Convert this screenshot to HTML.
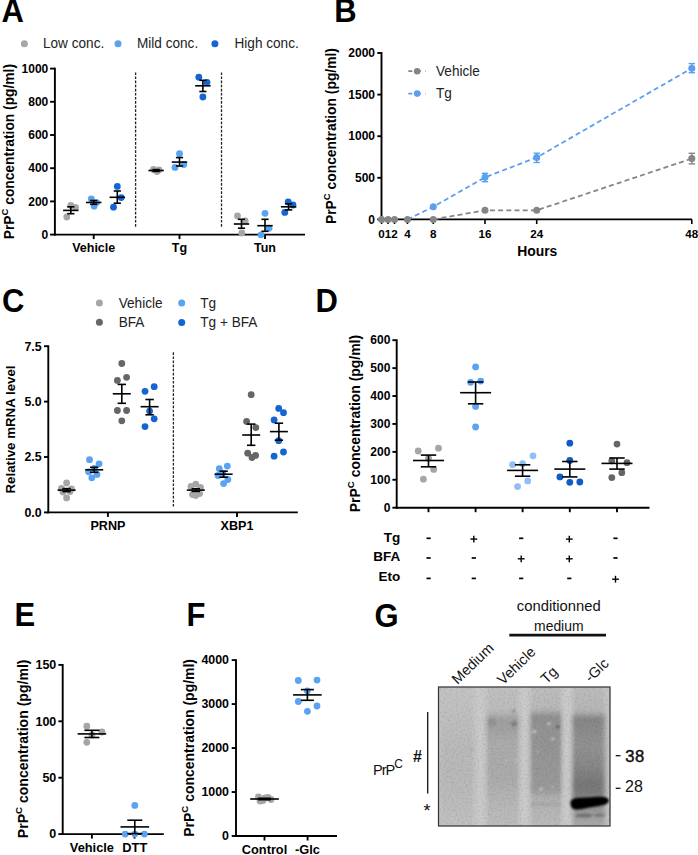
<!DOCTYPE html>
<html><head><meta charset="utf-8"><style>
html,body{margin:0;padding:0;background:#fff;}
svg{display:block;}
text{font-family:"Liberation Sans",sans-serif;}
</style></head><body>
<svg width="698" height="855" viewBox="0 0 698 855">
<rect width="698" height="855" fill="#fff"/>
<defs>
<filter id="bl3" x="-20%" y="-20%" width="140%" height="140%"><feGaussianBlur stdDeviation="2.8"/></filter>
<filter id="bl1" x="-20%" y="-50%" width="140%" height="200%"><feGaussianBlur stdDeviation="1.1"/></filter>
<filter id="bl05" x="-100%" y="-100%" width="300%" height="300%"><feGaussianBlur stdDeviation="0.9"/></filter>
<clipPath id="blotclip"><rect x="438.7" y="687.3" width="171.2" height="138.5"/></clipPath>
<linearGradient id="l1" x1="0" y1="0" x2="0" y2="1">
 <stop offset="0.0000" stop-color="#000" stop-opacity="0.01"/>
 <stop offset="0.1333" stop-color="#000" stop-opacity="0.02"/>
 <stop offset="0.3667" stop-color="#000" stop-opacity="0.05"/>
 <stop offset="0.6000" stop-color="#000" stop-opacity="0.07"/>
 <stop offset="0.8000" stop-color="#000" stop-opacity="0.05"/>
 <stop offset="1.0000" stop-color="#000" stop-opacity="0.02"/>
</linearGradient>
<linearGradient id="l2" x1="0" y1="0" x2="0" y2="1">
 <stop offset="0.0000" stop-color="#000" stop-opacity="0.02"/>
 <stop offset="0.2133" stop-color="#000" stop-opacity="0.05"/>
 <stop offset="0.2600" stop-color="#000" stop-opacity="0.2"/>
 <stop offset="0.3333" stop-color="#000" stop-opacity="0.18"/>
 <stop offset="0.4133" stop-color="#000" stop-opacity="0.13"/>
 <stop offset="0.6667" stop-color="#000" stop-opacity="0.13"/>
 <stop offset="0.8000" stop-color="#000" stop-opacity="0.08"/>
 <stop offset="1.0000" stop-color="#000" stop-opacity="0.04"/>
</linearGradient>
<linearGradient id="l3" x1="0" y1="0" x2="0" y2="1">
 <stop offset="0.0000" stop-color="#000" stop-opacity="0.03"/>
 <stop offset="0.2000" stop-color="#000" stop-opacity="0.07"/>
 <stop offset="0.2400" stop-color="#000" stop-opacity="0.28"/>
 <stop offset="0.2933" stop-color="#000" stop-opacity="0.26"/>
 <stop offset="0.5333" stop-color="#000" stop-opacity="0.24"/>
 <stop offset="0.7333" stop-color="#000" stop-opacity="0.22"/>
 <stop offset="0.7867" stop-color="#000" stop-opacity="0.1"/>
 <stop offset="1.0000" stop-color="#000" stop-opacity="0.05"/>
</linearGradient>
<linearGradient id="l4" x1="0" y1="0" x2="0" y2="1">
 <stop offset="0.0000" stop-color="#000" stop-opacity="0.04"/>
 <stop offset="0.2133" stop-color="#000" stop-opacity="0.08"/>
 <stop offset="0.2533" stop-color="#000" stop-opacity="0.33"/>
 <stop offset="0.3200" stop-color="#000" stop-opacity="0.3"/>
 <stop offset="0.4333" stop-color="#000" stop-opacity="0.26"/>
 <stop offset="0.5667" stop-color="#000" stop-opacity="0.31"/>
 <stop offset="0.7000" stop-color="#000" stop-opacity="0.4"/>
 <stop offset="0.7667" stop-color="#000" stop-opacity="0.36"/>
 <stop offset="0.8800" stop-color="#000" stop-opacity="0.22"/>
 <stop offset="1.0000" stop-color="#000" stop-opacity="0.12"/>
</linearGradient>
<filter id="noise" x="0" y="0" width="100%" height="100%">
 <feTurbulence type="fractalNoise" baseFrequency="0.5" numOctaves="2" seed="3" result="t"/>
 <feColorMatrix type="matrix" values="0 0 0 0 0  0 0 0 0 0  0 0 0 0 0  1.6 0 0 0 -0.7" />
</filter>
</defs>
<rect x="438.2" y="686.8" width="172" height="139.4" fill="#c6c6c6"/>
<g clip-path="url(#blotclip)">
<g filter="url(#bl3)">
<rect x="440" y="680" width="37" height="150" fill="url(#l1)"/>
<rect x="485.5" y="680" width="35" height="150" fill="url(#l2)"/>
<rect x="529.5" y="680" width="33" height="150" fill="url(#l3)"/>
<rect x="571" y="680" width="34" height="150" fill="url(#l4)"/>
<rect x="477.5" y="680" width="5" height="150" fill="#fff" opacity="0.12"/>
<rect x="522" y="680" width="4.5" height="150" fill="#fff" opacity="0.15"/>
<rect x="565" y="680" width="4.5" height="150" fill="#fff" opacity="0.16"/>
</g>
<rect x="438" y="686" width="173" height="141" fill="#000" filter="url(#noise)" opacity="0.13"/>
<g filter="url(#bl1)">
<path d="M570.5,803 C570.5,797.5 578,797.8 588,797.6 C598,796.6 607.5,795.6 608.8,800 C609.5,804 603,805.6 596,806.4 C588,807.4 580,810.2 574.5,809.3 C571.5,808.6 570.5,806 570.5,803 Z" fill="#000"/>
<ellipse cx="584" cy="815.6" rx="9" ry="2" fill="#000" opacity="0.28"/>
<ellipse cx="600" cy="815.2" rx="6" ry="1.8" fill="#000" opacity="0.22"/>
<rect x="531" y="802" width="30" height="4" fill="#000" opacity="0.06"/>
</g>
<circle cx="534.5" cy="731.5" r="1.6" fill="#fff" opacity="0.6" filter="url(#bl05)"/>
<circle cx="549" cy="723.5" r="1.5" fill="#fff" opacity="0.6" filter="url(#bl05)"/>
<circle cx="553" cy="739" r="1.6" fill="#fff" opacity="0.45" filter="url(#bl05)"/>
<circle cx="537.5" cy="752" r="1.2" fill="#fff" opacity="0.35" filter="url(#bl05)"/>
<circle cx="541" cy="789" r="1.5" fill="#fff" opacity="0.5" filter="url(#bl05)"/>
<circle cx="552.5" cy="787" r="1.2" fill="#fff" opacity="0.35" filter="url(#bl05)"/>
<circle cx="515.5" cy="760.5" r="1.2" fill="#fff" opacity="0.35" filter="url(#bl05)"/>
<circle cx="506.5" cy="760.5" r="1.1" fill="#fff" opacity="0.3" filter="url(#bl05)"/>
<circle cx="513.5" cy="711" r="1.4" fill="#000" opacity="0.3" filter="url(#bl05)"/>
<circle cx="514" cy="724" r="2.8" fill="#000" opacity="0.2" filter="url(#bl05)"/>
<circle cx="558" cy="727" r="1.8" fill="#000" opacity="0.35" filter="url(#bl05)"/>
<circle cx="472.5" cy="749.5" r="1.2" fill="#000" opacity="0.15" filter="url(#bl05)"/>
<circle cx="492" cy="722" r="4" fill="#000" opacity="0.08" filter="url(#bl05)"/>
</g>
<rect x="438.5" y="687" width="171.5" height="139" fill="none" stroke="#333" stroke-width="1.2"/>
<text transform="translate(1.5,22.2) scale(1,1.05)" font-size="31" font-weight="bold" text-anchor="start" fill="#000" >A</text>
<circle cx="24.4" cy="43.7" r="3.5" fill="#a6a6a6"/>
<circle cx="118" cy="43.7" r="3.5" fill="#5aa3f2"/>
<circle cx="214.9" cy="43.7" r="3.5" fill="#1464d4"/>
<text transform="translate(43,48.4) scale(1,1.09)" font-size="13.6" font-weight="normal" text-anchor="start" fill="#222" >Low conc.</text>
<text transform="translate(137,48.4) scale(1,1.09)" font-size="13.6" font-weight="normal" text-anchor="start" fill="#222" >Mild conc.</text>
<text transform="translate(234.5,48.4) scale(1,1.09)" font-size="13.6" font-weight="normal" text-anchor="start" fill="#222" >High conc.</text>
<text transform="translate(14.2,239.2) rotate(-90) scale(1,1.02)" x="0" y="0" font-size="13.78" font-weight="bold" fill="#000">PrP<tspan font-size="9.51" dy="-5.79">C</tspan><tspan dy="5.79"> concentration (pg/ml)</tspan></text>
<line x1="54.9" y1="67.69999999999999" x2="54.9" y2="235.5" stroke="#000" stroke-width="1.9" />
<line x1="50.1" y1="234.6" x2="54.9" y2="234.6" stroke="#000" stroke-width="1.9" />
<text x="48.3" y="238.8" font-size="12" font-weight="bold" text-anchor="end" fill="#000" >0</text>
<line x1="50.1" y1="201.39999999999998" x2="54.9" y2="201.39999999999998" stroke="#000" stroke-width="1.9" />
<text x="48.3" y="205.6" font-size="12" font-weight="bold" text-anchor="end" fill="#000" >200</text>
<line x1="50.1" y1="168.2" x2="54.9" y2="168.2" stroke="#000" stroke-width="1.9" />
<text x="48.3" y="172.4" font-size="12" font-weight="bold" text-anchor="end" fill="#000" >400</text>
<line x1="50.1" y1="135.0" x2="54.9" y2="135.0" stroke="#000" stroke-width="1.9" />
<text x="48.3" y="139.2" font-size="12" font-weight="bold" text-anchor="end" fill="#000" >600</text>
<line x1="50.1" y1="101.79999999999998" x2="54.9" y2="101.79999999999998" stroke="#000" stroke-width="1.9" />
<text x="48.3" y="106.0" font-size="12" font-weight="bold" text-anchor="end" fill="#000" >800</text>
<line x1="50.1" y1="68.6" x2="54.9" y2="68.6" stroke="#000" stroke-width="1.9" />
<text x="48.3" y="72.8" font-size="12" font-weight="bold" text-anchor="end" fill="#000" >1000</text>
<line x1="135.6" y1="72.4" x2="135.6" y2="228" stroke="#222" stroke-width="1.3" stroke-dasharray="2.6 1.5"/>
<line x1="221.5" y1="72.4" x2="221.5" y2="228" stroke="#222" stroke-width="1.3" stroke-dasharray="2.6 1.5"/>
<line x1="54.0" y1="234.6" x2="305" y2="234.6" stroke="#000" stroke-width="1.9" />
<line x1="93.7" y1="234.6" x2="93.7" y2="239.1" stroke="#000" stroke-width="1.9" />
<line x1="179.5" y1="234.6" x2="179.5" y2="239.1" stroke="#000" stroke-width="1.9" />
<line x1="265" y1="234.6" x2="265" y2="239.1" stroke="#000" stroke-width="1.9" />
<circle cx="66.8" cy="217" r="3.4" fill="#a6a6a6"/>
<circle cx="70.8" cy="205.5" r="3.4" fill="#a6a6a6"/>
<circle cx="75.5" cy="207.5" r="3.4" fill="#a6a6a6"/>
<circle cx="91.3" cy="199" r="3.4" fill="#5aa3f2"/>
<circle cx="94.1" cy="206.2" r="3.4" fill="#5aa3f2"/>
<circle cx="96.6" cy="202.6" r="3.4" fill="#5aa3f2"/>
<circle cx="117.3" cy="186.4" r="3.4" fill="#1464d4"/>
<circle cx="121.2" cy="197.6" r="3.4" fill="#1464d4"/>
<circle cx="113.5" cy="207.2" r="3.4" fill="#1464d4"/>
<circle cx="153.5" cy="169.5" r="3.4" fill="#a6a6a6"/>
<circle cx="157" cy="171.5" r="3.4" fill="#a6a6a6"/>
<circle cx="159" cy="170" r="3.4" fill="#a6a6a6"/>
<circle cx="179.5" cy="153.7" r="3.4" fill="#5aa3f2"/>
<circle cx="175" cy="167.4" r="3.4" fill="#5aa3f2"/>
<circle cx="183.8" cy="164.5" r="3.4" fill="#5aa3f2"/>
<circle cx="198.8" cy="77.2" r="3.4" fill="#1464d4"/>
<circle cx="207" cy="82.3" r="3.4" fill="#1464d4"/>
<circle cx="202.9" cy="97" r="3.4" fill="#1464d4"/>
<circle cx="237.5" cy="215.9" r="3.4" fill="#a6a6a6"/>
<circle cx="245.2" cy="221" r="3.4" fill="#a6a6a6"/>
<circle cx="241.8" cy="233" r="3.4" fill="#a6a6a6"/>
<circle cx="265" cy="213.3" r="3.4" fill="#5aa3f2"/>
<circle cx="269" cy="228.2" r="3.4" fill="#5aa3f2"/>
<circle cx="261" cy="234.8" r="3.4" fill="#5aa3f2"/>
<circle cx="288.2" cy="201.8" r="3.4" fill="#1464d4"/>
<circle cx="293" cy="205" r="3.4" fill="#1464d4"/>
<circle cx="284.8" cy="212.4" r="3.4" fill="#1464d4"/>
<line x1="63.099999999999994" y1="210.4" x2="78.5" y2="210.4" stroke="#000" stroke-width="1.6" />
<line x1="70.8" y1="206.8" x2="70.8" y2="213.7" stroke="#000" stroke-width="1.6" />
<line x1="67.2" y1="206.8" x2="74.39999999999999" y2="206.8" stroke="#000" stroke-width="1.6" />
<line x1="67.2" y1="213.7" x2="74.39999999999999" y2="213.7" stroke="#000" stroke-width="1.6" />
<line x1="86.0" y1="202.5" x2="101.4" y2="202.5" stroke="#000" stroke-width="1.6" />
<line x1="93.7" y1="200.5" x2="93.7" y2="204.3" stroke="#000" stroke-width="1.6" />
<line x1="90.10000000000001" y1="200.5" x2="97.3" y2="200.5" stroke="#000" stroke-width="1.6" />
<line x1="90.10000000000001" y1="204.3" x2="97.3" y2="204.3" stroke="#000" stroke-width="1.6" />
<line x1="109.6" y1="197.3" x2="125.0" y2="197.3" stroke="#000" stroke-width="1.6" />
<line x1="117.3" y1="191" x2="117.3" y2="203.2" stroke="#000" stroke-width="1.6" />
<line x1="113.7" y1="191" x2="120.89999999999999" y2="191" stroke="#000" stroke-width="1.6" />
<line x1="113.7" y1="203.2" x2="120.89999999999999" y2="203.2" stroke="#000" stroke-width="1.6" />
<line x1="148.4" y1="170.5" x2="163.79999999999998" y2="170.5" stroke="#000" stroke-width="1.6" />
<line x1="156.1" y1="169.6" x2="156.1" y2="171.4" stroke="#000" stroke-width="1.6" />
<line x1="152.5" y1="169.6" x2="159.7" y2="169.6" stroke="#000" stroke-width="1.6" />
<line x1="152.5" y1="171.4" x2="159.7" y2="171.4" stroke="#000" stroke-width="1.6" />
<line x1="171.8" y1="162.1" x2="187.2" y2="162.1" stroke="#000" stroke-width="1.6" />
<line x1="179.5" y1="157.6" x2="179.5" y2="166" stroke="#000" stroke-width="1.6" />
<line x1="175.9" y1="157.6" x2="183.1" y2="157.6" stroke="#000" stroke-width="1.6" />
<line x1="175.9" y1="166" x2="183.1" y2="166" stroke="#000" stroke-width="1.6" />
<line x1="195.20000000000002" y1="85.8" x2="210.6" y2="85.8" stroke="#000" stroke-width="1.6" />
<line x1="202.9" y1="80.3" x2="202.9" y2="91.5" stroke="#000" stroke-width="1.6" />
<line x1="199.3" y1="80.3" x2="206.5" y2="80.3" stroke="#000" stroke-width="1.6" />
<line x1="199.3" y1="91.5" x2="206.5" y2="91.5" stroke="#000" stroke-width="1.6" />
<line x1="233.8" y1="224" x2="249.2" y2="224" stroke="#000" stroke-width="1.6" />
<line x1="241.5" y1="219.3" x2="241.5" y2="228.2" stroke="#000" stroke-width="1.6" />
<line x1="237.9" y1="219.3" x2="245.1" y2="219.3" stroke="#000" stroke-width="1.6" />
<line x1="237.9" y1="228.2" x2="245.1" y2="228.2" stroke="#000" stroke-width="1.6" />
<line x1="257.3" y1="225.7" x2="272.7" y2="225.7" stroke="#000" stroke-width="1.6" />
<line x1="265" y1="219.3" x2="265" y2="231.3" stroke="#000" stroke-width="1.6" />
<line x1="261.4" y1="219.3" x2="268.6" y2="219.3" stroke="#000" stroke-width="1.6" />
<line x1="261.4" y1="231.3" x2="268.6" y2="231.3" stroke="#000" stroke-width="1.6" />
<line x1="280.90000000000003" y1="206.8" x2="296.3" y2="206.8" stroke="#000" stroke-width="1.6" />
<line x1="288.6" y1="203.8" x2="288.6" y2="209.9" stroke="#000" stroke-width="1.6" />
<line x1="285.0" y1="203.8" x2="292.20000000000005" y2="203.8" stroke="#000" stroke-width="1.6" />
<line x1="285.0" y1="209.9" x2="292.20000000000005" y2="209.9" stroke="#000" stroke-width="1.6" />
<text x="93.7" y="252.4" font-size="12.5" font-weight="bold" text-anchor="middle" fill="#000" >Vehicle</text>
<text x="179.5" y="252.4" font-size="12.5" font-weight="bold" text-anchor="middle" fill="#000" >Tg</text>
<text x="265" y="252.4" font-size="12.5" font-weight="bold" text-anchor="middle" fill="#000" >Tun</text>
<text transform="translate(334.3,22.2) scale(1,1.05)" font-size="31" font-weight="bold" text-anchor="start" fill="#000" >B</text>
<text transform="translate(335.7,224) rotate(-90) scale(1,1.02)" x="0" y="0" font-size="13.84" font-weight="bold" fill="#000">PrP<tspan font-size="9.55" dy="-5.81">C</tspan><tspan dy="5.81"> concentration (pg/ml)</tspan></text>
<line x1="381.5" y1="52.1" x2="381.5" y2="220.3" stroke="#000" stroke-width="1.9" />
<line x1="377.3" y1="219.4" x2="381.5" y2="219.4" stroke="#000" stroke-width="1.9" />
<text x="375.0" y="223.6" font-size="12" font-weight="bold" text-anchor="end" fill="#000" >0</text>
<line x1="377.3" y1="177.8" x2="381.5" y2="177.8" stroke="#000" stroke-width="1.9" />
<text x="375.0" y="182.0" font-size="12" font-weight="bold" text-anchor="end" fill="#000" >500</text>
<line x1="377.3" y1="136.2" x2="381.5" y2="136.2" stroke="#000" stroke-width="1.9" />
<text x="375.0" y="140.4" font-size="12" font-weight="bold" text-anchor="end" fill="#000" >1000</text>
<line x1="377.3" y1="94.60000000000001" x2="381.5" y2="94.60000000000001" stroke="#000" stroke-width="1.9" />
<text x="375.0" y="98.8" font-size="12" font-weight="bold" text-anchor="end" fill="#000" >1500</text>
<line x1="377.3" y1="53.0" x2="381.5" y2="53.0" stroke="#000" stroke-width="1.9" />
<text x="375.0" y="57.2" font-size="12" font-weight="bold" text-anchor="end" fill="#000" >2000</text>
<line x1="380.70000000000005" y1="219.4" x2="692" y2="219.4" stroke="#000" stroke-width="1.8" />
<line x1="381.6" y1="219.4" x2="381.6" y2="224.0" stroke="#000" stroke-width="1.6" />
<line x1="388.0625" y1="219.4" x2="388.0625" y2="224.0" stroke="#000" stroke-width="1.6" />
<line x1="394.52500000000003" y1="219.4" x2="394.52500000000003" y2="224.0" stroke="#000" stroke-width="1.6" />
<line x1="407.45000000000005" y1="219.4" x2="407.45000000000005" y2="224.0" stroke="#000" stroke-width="1.6" />
<line x1="433.3" y1="219.4" x2="433.3" y2="224.0" stroke="#000" stroke-width="1.6" />
<line x1="485.0" y1="219.4" x2="485.0" y2="224.0" stroke="#000" stroke-width="1.6" />
<line x1="536.7" y1="219.4" x2="536.7" y2="224.0" stroke="#000" stroke-width="1.6" />
<line x1="691.8" y1="219.4" x2="691.8" y2="224.0" stroke="#000" stroke-width="1.6" />
<polyline points="433.3,219.4 485.0,210.3 536.7,210.3 691.8,158.6" fill="none" stroke="#858585" stroke-width="1.8" stroke-dasharray="5 3.2"/>
<polyline points="407.5,219.4 433.3,206.8 485.0,177.3 536.7,157.5 691.8,68.2" fill="none" stroke="#5a9ff0" stroke-width="1.8" stroke-dasharray="5 3.2"/>
<line x1="485.0" y1="173.3" x2="485.0" y2="181.7" stroke="#5a9ff0" stroke-width="1.4" />
<line x1="481.8" y1="173.3" x2="488.2" y2="173.3" stroke="#5a9ff0" stroke-width="1.4" />
<line x1="481.8" y1="181.7" x2="488.2" y2="181.7" stroke="#5a9ff0" stroke-width="1.4" />
<line x1="536.7" y1="153.2" x2="536.7" y2="162.5" stroke="#5a9ff0" stroke-width="1.4" />
<line x1="533.5" y1="153.2" x2="539.9000000000001" y2="153.2" stroke="#5a9ff0" stroke-width="1.4" />
<line x1="533.5" y1="162.5" x2="539.9000000000001" y2="162.5" stroke="#5a9ff0" stroke-width="1.4" />
<line x1="691.8" y1="63.6" x2="691.8" y2="72.7" stroke="#5a9ff0" stroke-width="1.4" />
<line x1="688.5999999999999" y1="63.6" x2="695.0" y2="63.6" stroke="#5a9ff0" stroke-width="1.4" />
<line x1="688.5999999999999" y1="72.7" x2="695.0" y2="72.7" stroke="#5a9ff0" stroke-width="1.4" />
<line x1="691.8" y1="153.3" x2="691.8" y2="163.9" stroke="#858585" stroke-width="1.4" />
<line x1="688.5999999999999" y1="153.3" x2="695.0" y2="153.3" stroke="#858585" stroke-width="1.4" />
<line x1="688.5999999999999" y1="163.9" x2="695.0" y2="163.9" stroke="#858585" stroke-width="1.4" />
<circle cx="381.6" cy="219.4" r="3.5" fill="#858585"/>
<circle cx="388.0625" cy="219.4" r="3.5" fill="#858585"/>
<circle cx="394.52500000000003" cy="219.4" r="3.5" fill="#858585"/>
<circle cx="407.45000000000005" cy="219.4" r="3.5" fill="#858585"/>
<circle cx="433.3" cy="219.4" r="3.5" fill="#858585"/>
<circle cx="485.0" cy="210.3" r="3.5" fill="#858585"/>
<circle cx="536.7" cy="210.3" r="3.5" fill="#858585"/>
<circle cx="691.8" cy="158.6" r="3.5" fill="#858585"/>
<circle cx="433.3" cy="206.8" r="3.5" fill="#5a9ff0"/>
<circle cx="485.0" cy="177.3" r="3.5" fill="#5a9ff0"/>
<circle cx="536.7" cy="157.5" r="3.5" fill="#5a9ff0"/>
<circle cx="691.8" cy="68.20000000000002" r="3.5" fill="#5a9ff0"/>
<text x="381.6" y="237.5" font-size="11.6" font-weight="bold" text-anchor="middle" fill="#000" >0</text>
<text x="388.0625" y="237.5" font-size="11.6" font-weight="bold" text-anchor="middle" fill="#000" >1</text>
<text x="394.52500000000003" y="237.5" font-size="11.6" font-weight="bold" text-anchor="middle" fill="#000" >2</text>
<text x="407.45000000000005" y="237.5" font-size="11.6" font-weight="bold" text-anchor="middle" fill="#000" >4</text>
<text x="433.3" y="237.5" font-size="11.6" font-weight="bold" text-anchor="middle" fill="#000" >8</text>
<text x="485.0" y="237.5" font-size="11.6" font-weight="bold" text-anchor="middle" fill="#000" >16</text>
<text x="536.7" y="237.5" font-size="11.6" font-weight="bold" text-anchor="middle" fill="#000" >24</text>
<text x="691.8" y="237.5" font-size="11.6" font-weight="bold" text-anchor="middle" fill="#000" >48</text>
<text x="537.2" y="255.5" font-size="13.9" font-weight="bold" text-anchor="middle" fill="#000" >Hours</text>
<line x1="408.3" y1="71.2" x2="426" y2="71.2" stroke="#858585" stroke-width="1.8" stroke-dasharray="4 4.6"/>
<circle cx="417.2" cy="71.2" r="3.3" fill="#858585"/>
<text transform="translate(436,75.8) scale(1,1.09)" font-size="13.6" font-weight="normal" text-anchor="start" fill="#222" >Vehicle</text>
<line x1="408.3" y1="93.6" x2="426" y2="93.6" stroke="#5a9ff0" stroke-width="1.8" stroke-dasharray="4 4.6"/>
<circle cx="417.2" cy="93.6" r="3.3" fill="#5a9ff0"/>
<text transform="translate(436,98.19999999999999) scale(1,1.09)" font-size="13.6" font-weight="normal" text-anchor="start" fill="#222" >Tg</text>
<text transform="translate(2,311.8) scale(1,1.05)" font-size="31" font-weight="bold" text-anchor="start" fill="#000" >C</text>
<circle cx="99.4" cy="302.9" r="3.5" fill="#a6a6a6"/>
<circle cx="99.4" cy="322.2" r="3.5" fill="#666666"/>
<circle cx="181.7" cy="302.9" r="3.5" fill="#5aa3f2"/>
<circle cx="181.7" cy="322.4" r="3.5" fill="#1464d4"/>
<text transform="translate(118.7,307.6) scale(1,1.09)" font-size="13.6" font-weight="normal" text-anchor="start" fill="#222" >Vehicle</text>
<text transform="translate(118.7,326.6) scale(1,1.09)" font-size="13.6" font-weight="normal" text-anchor="start" fill="#222" >BFA</text>
<text transform="translate(200.3,307.6) scale(1,1.09)" font-size="13.6" font-weight="normal" text-anchor="start" fill="#222" >Tg</text>
<text transform="translate(200.3,326.6) scale(1,1.09)" font-size="13.6" font-weight="normal" text-anchor="start" fill="#222" >Tg + BFA</text>
<text transform="translate(14.8,493.5) rotate(-90) scale(1,1.02)" x="0" y="0" font-size="13.3" font-weight="bold" fill="#000">Relative mRNA level</text>
<line x1="48.3" y1="345.3" x2="48.3" y2="513.3" stroke="#000" stroke-width="1.9" />
<line x1="44.0" y1="512.4" x2="48.3" y2="512.4" stroke="#000" stroke-width="1.9" />
<text x="41.7" y="516.74" font-size="12.4" font-weight="bold" text-anchor="end" fill="#000" >0.0</text>
<line x1="44.0" y1="457.0" x2="48.3" y2="457.0" stroke="#000" stroke-width="1.9" />
<text x="41.7" y="461.34" font-size="12.4" font-weight="bold" text-anchor="end" fill="#000" >2.5</text>
<line x1="44.0" y1="401.59999999999997" x2="48.3" y2="401.59999999999997" stroke="#000" stroke-width="1.9" />
<text x="41.7" y="405.94" font-size="12.4" font-weight="bold" text-anchor="end" fill="#000" >5.0</text>
<line x1="44.0" y1="346.2" x2="48.3" y2="346.2" stroke="#000" stroke-width="1.9" />
<text x="41.7" y="350.54" font-size="12.4" font-weight="bold" text-anchor="end" fill="#000" >7.5</text>
<line x1="173.4" y1="352.3" x2="173.4" y2="507.6" stroke="#222" stroke-width="1.3" stroke-dasharray="2.6 1.5"/>
<line x1="47.4" y1="512.4" x2="297.8" y2="512.4" stroke="#000" stroke-width="1.9" />
<line x1="107.9" y1="512.4" x2="107.9" y2="516.9" stroke="#000" stroke-width="1.9" />
<line x1="237" y1="512.4" x2="237" y2="516.9" stroke="#000" stroke-width="1.9" />
<circle cx="66.6" cy="483" r="3.4" fill="#a6a6a6"/>
<circle cx="66.6" cy="497.9" r="3.4" fill="#a6a6a6"/>
<circle cx="61.5" cy="488.5" r="3.4" fill="#a6a6a6"/>
<circle cx="71.5" cy="489" r="3.4" fill="#a6a6a6"/>
<circle cx="63" cy="492" r="3.4" fill="#a6a6a6"/>
<circle cx="70" cy="491.5" r="3.4" fill="#a6a6a6"/>
<circle cx="89.5" cy="459.7" r="3.4" fill="#5aa3f2"/>
<circle cx="99.1" cy="463.8" r="3.4" fill="#5aa3f2"/>
<circle cx="91.8" cy="477.8" r="3.4" fill="#5aa3f2"/>
<circle cx="97" cy="474.4" r="3.4" fill="#5aa3f2"/>
<circle cx="88.6" cy="471.8" r="3.4" fill="#5aa3f2"/>
<circle cx="94.5" cy="468.5" r="3.4" fill="#5aa3f2"/>
<circle cx="121.8" cy="363.5" r="3.4" fill="#666666"/>
<circle cx="126.6" cy="377.3" r="3.4" fill="#666666"/>
<circle cx="117.4" cy="380.4" r="3.4" fill="#666666"/>
<circle cx="117.4" cy="410.5" r="3.4" fill="#666666"/>
<circle cx="126.6" cy="410.5" r="3.4" fill="#666666"/>
<circle cx="121.8" cy="420.8" r="3.4" fill="#666666"/>
<circle cx="154.2" cy="386.7" r="3.4" fill="#1464d4"/>
<circle cx="145" cy="391.3" r="3.4" fill="#1464d4"/>
<circle cx="149.6" cy="411.1" r="3.4" fill="#1464d4"/>
<circle cx="154.2" cy="418.8" r="3.4" fill="#1464d4"/>
<circle cx="145" cy="426.6" r="3.4" fill="#1464d4"/>
<circle cx="195.8" cy="484.1" r="3.4" fill="#a6a6a6"/>
<circle cx="191" cy="486.5" r="3.4" fill="#a6a6a6"/>
<circle cx="200.5" cy="487.5" r="3.4" fill="#a6a6a6"/>
<circle cx="192.5" cy="494.5" r="3.4" fill="#a6a6a6"/>
<circle cx="199.5" cy="493.5" r="3.4" fill="#a6a6a6"/>
<circle cx="195.8" cy="495.6" r="3.4" fill="#a6a6a6"/>
<circle cx="219.3" cy="468.7" r="3.4" fill="#5aa3f2"/>
<circle cx="227.3" cy="466.1" r="3.4" fill="#5aa3f2"/>
<circle cx="218.1" cy="475.5" r="3.4" fill="#5aa3f2"/>
<circle cx="227.9" cy="479.5" r="3.4" fill="#5aa3f2"/>
<circle cx="223.6" cy="483.6" r="3.4" fill="#5aa3f2"/>
<circle cx="222.7" cy="473.2" r="3.4" fill="#5aa3f2"/>
<circle cx="251.2" cy="394.7" r="3.4" fill="#666666"/>
<circle cx="246.6" cy="421.5" r="3.4" fill="#666666"/>
<circle cx="255.8" cy="427.6" r="3.4" fill="#666666"/>
<circle cx="247.7" cy="453.2" r="3.4" fill="#666666"/>
<circle cx="252" cy="457.5" r="3.4" fill="#666666"/>
<circle cx="255.6" cy="455.4" r="3.4" fill="#666666"/>
<circle cx="278.7" cy="408.4" r="3.4" fill="#1464d4"/>
<circle cx="283.5" cy="412.7" r="3.4" fill="#1464d4"/>
<circle cx="274.1" cy="419.9" r="3.4" fill="#1464d4"/>
<circle cx="278.7" cy="440.7" r="3.4" fill="#1464d4"/>
<circle cx="283.5" cy="452" r="3.4" fill="#1464d4"/>
<circle cx="274.1" cy="456.2" r="3.4" fill="#1464d4"/>
<line x1="57.599999999999994" y1="490.1" x2="75.6" y2="490.1" stroke="#000" stroke-width="1.6" />
<line x1="66.6" y1="488.6" x2="66.6" y2="491.6" stroke="#000" stroke-width="1.6" />
<line x1="62.39999999999999" y1="488.6" x2="70.8" y2="488.6" stroke="#000" stroke-width="1.6" />
<line x1="62.39999999999999" y1="491.6" x2="70.8" y2="491.6" stroke="#000" stroke-width="1.6" />
<line x1="85.2" y1="469.8" x2="103.2" y2="469.8" stroke="#000" stroke-width="1.6" />
<line x1="94.2" y1="467.3" x2="94.2" y2="472.3" stroke="#000" stroke-width="1.6" />
<line x1="90.0" y1="467.3" x2="98.4" y2="467.3" stroke="#000" stroke-width="1.6" />
<line x1="90.0" y1="472.3" x2="98.4" y2="472.3" stroke="#000" stroke-width="1.6" />
<line x1="112.8" y1="393.8" x2="130.8" y2="393.8" stroke="#000" stroke-width="1.6" />
<line x1="121.8" y1="384.4" x2="121.8" y2="403.3" stroke="#000" stroke-width="1.6" />
<line x1="117.6" y1="384.4" x2="126.0" y2="384.4" stroke="#000" stroke-width="1.6" />
<line x1="117.6" y1="403.3" x2="126.0" y2="403.3" stroke="#000" stroke-width="1.6" />
<line x1="140.6" y1="406.7" x2="158.6" y2="406.7" stroke="#000" stroke-width="1.6" />
<line x1="149.6" y1="399.5" x2="149.6" y2="414.8" stroke="#000" stroke-width="1.6" />
<line x1="145.4" y1="399.5" x2="153.79999999999998" y2="399.5" stroke="#000" stroke-width="1.6" />
<line x1="145.4" y1="414.8" x2="153.79999999999998" y2="414.8" stroke="#000" stroke-width="1.6" />
<line x1="186.8" y1="490.1" x2="204.8" y2="490.1" stroke="#000" stroke-width="1.6" />
<line x1="195.8" y1="488.8" x2="195.8" y2="491.4" stroke="#000" stroke-width="1.6" />
<line x1="191.60000000000002" y1="488.8" x2="200.0" y2="488.8" stroke="#000" stroke-width="1.6" />
<line x1="191.60000000000002" y1="491.4" x2="200.0" y2="491.4" stroke="#000" stroke-width="1.6" />
<line x1="214.6" y1="474.2" x2="232.6" y2="474.2" stroke="#000" stroke-width="1.6" />
<line x1="223.6" y1="471.2" x2="223.6" y2="477.2" stroke="#000" stroke-width="1.6" />
<line x1="219.4" y1="471.2" x2="227.79999999999998" y2="471.2" stroke="#000" stroke-width="1.6" />
<line x1="219.4" y1="477.2" x2="227.79999999999998" y2="477.2" stroke="#000" stroke-width="1.6" />
<line x1="242.2" y1="435" x2="260.2" y2="435" stroke="#000" stroke-width="1.6" />
<line x1="251.2" y1="424.1" x2="251.2" y2="445.3" stroke="#000" stroke-width="1.6" />
<line x1="247.0" y1="424.1" x2="255.39999999999998" y2="424.1" stroke="#000" stroke-width="1.6" />
<line x1="247.0" y1="445.3" x2="255.39999999999998" y2="445.3" stroke="#000" stroke-width="1.6" />
<line x1="269.9" y1="431.6" x2="287.9" y2="431.6" stroke="#000" stroke-width="1.6" />
<line x1="278.9" y1="423.2" x2="278.9" y2="440.2" stroke="#000" stroke-width="1.6" />
<line x1="274.7" y1="423.2" x2="283.09999999999997" y2="423.2" stroke="#000" stroke-width="1.6" />
<line x1="274.7" y1="440.2" x2="283.09999999999997" y2="440.2" stroke="#000" stroke-width="1.6" />
<text x="107.9" y="529.6" font-size="12.6" font-weight="bold" text-anchor="middle" fill="#000" >PRNP</text>
<text x="237" y="529.6" font-size="12.6" font-weight="bold" text-anchor="middle" fill="#000" >XBP1</text>
<text transform="translate(315.5,311.8) scale(1,1.05)" font-size="31" font-weight="bold" text-anchor="start" fill="#000" >D</text>
<text transform="translate(360.1,512.2) rotate(-90) scale(1,1.02)" x="0" y="0" font-size="13.95" font-weight="bold" fill="#000">PrP<tspan font-size="9.63" dy="-5.86">C</tspan><tspan dy="5.86"> concentration (pg/ml)</tspan></text>
<line x1="396.7" y1="339.3" x2="396.7" y2="508.59999999999997" stroke="#000" stroke-width="1.9" />
<line x1="392.4" y1="507.7" x2="396.7" y2="507.7" stroke="#000" stroke-width="1.9" />
<text x="390.4" y="511.9" font-size="12" font-weight="bold" text-anchor="end" fill="#000" >0</text>
<line x1="392.4" y1="479.7833333333333" x2="396.7" y2="479.7833333333333" stroke="#000" stroke-width="1.9" />
<text x="390.4" y="483.98" font-size="12" font-weight="bold" text-anchor="end" fill="#000" >100</text>
<line x1="392.4" y1="451.8666666666667" x2="396.7" y2="451.8666666666667" stroke="#000" stroke-width="1.9" />
<text x="390.4" y="456.07" font-size="12" font-weight="bold" text-anchor="end" fill="#000" >200</text>
<line x1="392.4" y1="423.95" x2="396.7" y2="423.95" stroke="#000" stroke-width="1.9" />
<text x="390.4" y="428.15" font-size="12" font-weight="bold" text-anchor="end" fill="#000" >300</text>
<line x1="392.4" y1="396.0333333333333" x2="396.7" y2="396.0333333333333" stroke="#000" stroke-width="1.9" />
<text x="390.4" y="400.23" font-size="12" font-weight="bold" text-anchor="end" fill="#000" >400</text>
<line x1="392.4" y1="368.1166666666667" x2="396.7" y2="368.1166666666667" stroke="#000" stroke-width="1.9" />
<text x="390.4" y="372.32" font-size="12" font-weight="bold" text-anchor="end" fill="#000" >500</text>
<line x1="392.4" y1="340.2" x2="396.7" y2="340.2" stroke="#000" stroke-width="1.9" />
<text x="390.4" y="344.4" font-size="12" font-weight="bold" text-anchor="end" fill="#000" >600</text>
<line x1="395.8" y1="507.7" x2="649.5" y2="507.7" stroke="#000" stroke-width="1.9" />
<line x1="428.5" y1="507.7" x2="428.5" y2="512.2" stroke="#000" stroke-width="1.9" />
<line x1="475.6" y1="507.7" x2="475.6" y2="512.2" stroke="#000" stroke-width="1.9" />
<line x1="522.6" y1="507.7" x2="522.6" y2="512.2" stroke="#000" stroke-width="1.9" />
<line x1="569.8" y1="507.7" x2="569.8" y2="512.2" stroke="#000" stroke-width="1.9" />
<line x1="617" y1="507.7" x2="617" y2="512.2" stroke="#000" stroke-width="1.9" />
<circle cx="418.2" cy="451" r="3.4" fill="#a6a6a6"/>
<circle cx="438.5" cy="448.2" r="3.4" fill="#a6a6a6"/>
<circle cx="428.5" cy="458.2" r="3.4" fill="#a6a6a6"/>
<circle cx="433.7" cy="469.4" r="3.4" fill="#a6a6a6"/>
<circle cx="423.4" cy="479.2" r="3.4" fill="#a6a6a6"/>
<circle cx="475.6" cy="366.9" r="3.4" fill="#5aa3f2"/>
<circle cx="470.6" cy="382.3" r="3.4" fill="#5aa3f2"/>
<circle cx="480.7" cy="381.1" r="3.4" fill="#5aa3f2"/>
<circle cx="475.6" cy="406.4" r="3.4" fill="#5aa3f2"/>
<circle cx="475.6" cy="427" r="3.4" fill="#5aa3f2"/>
<circle cx="533" cy="455.8" r="3.4" fill="#8fbff5"/>
<circle cx="512.6" cy="464.7" r="3.4" fill="#8fbff5"/>
<circle cx="522.6" cy="463.7" r="3.4" fill="#8fbff5"/>
<circle cx="527.7" cy="480.9" r="3.4" fill="#8fbff5"/>
<circle cx="517.6" cy="486.6" r="3.4" fill="#8fbff5"/>
<circle cx="569.8" cy="443.2" r="3.4" fill="#0e5cc6"/>
<circle cx="569.8" cy="460.5" r="3.4" fill="#0e5cc6"/>
<circle cx="559.9" cy="476.9" r="3.4" fill="#0e5cc6"/>
<circle cx="569.8" cy="482.3" r="3.4" fill="#0e5cc6"/>
<circle cx="579.8" cy="482" r="3.4" fill="#0e5cc6"/>
<circle cx="617" cy="444.1" r="3.4" fill="#666666"/>
<circle cx="611.8" cy="460.8" r="3.4" fill="#666666"/>
<circle cx="627" cy="462.7" r="3.4" fill="#666666"/>
<circle cx="621.8" cy="472.7" r="3.4" fill="#666666"/>
<circle cx="611.8" cy="477.6" r="3.4" fill="#666666"/>
<line x1="413.0" y1="460.5" x2="444.0" y2="460.5" stroke="#000" stroke-width="1.6" />
<line x1="428.5" y1="455.1" x2="428.5" y2="466.8" stroke="#000" stroke-width="1.6" />
<line x1="420.8" y1="455.1" x2="436.2" y2="455.1" stroke="#000" stroke-width="1.6" />
<line x1="420.8" y1="466.8" x2="436.2" y2="466.8" stroke="#000" stroke-width="1.6" />
<line x1="460.1" y1="392.7" x2="491.1" y2="392.7" stroke="#000" stroke-width="1.6" />
<line x1="475.6" y1="382" x2="475.6" y2="403.8" stroke="#000" stroke-width="1.6" />
<line x1="467.90000000000003" y1="382" x2="483.3" y2="382" stroke="#000" stroke-width="1.6" />
<line x1="467.90000000000003" y1="403.8" x2="483.3" y2="403.8" stroke="#000" stroke-width="1.6" />
<line x1="507.1" y1="470.4" x2="538.1" y2="470.4" stroke="#000" stroke-width="1.6" />
<line x1="522.6" y1="464.8" x2="522.6" y2="476.2" stroke="#000" stroke-width="1.6" />
<line x1="514.9" y1="464.8" x2="530.3000000000001" y2="464.8" stroke="#000" stroke-width="1.6" />
<line x1="514.9" y1="476.2" x2="530.3000000000001" y2="476.2" stroke="#000" stroke-width="1.6" />
<line x1="554.3" y1="469.1" x2="585.3" y2="469.1" stroke="#000" stroke-width="1.6" />
<line x1="569.8" y1="461.5" x2="569.8" y2="476.9" stroke="#000" stroke-width="1.6" />
<line x1="562.0999999999999" y1="461.5" x2="577.5" y2="461.5" stroke="#000" stroke-width="1.6" />
<line x1="562.0999999999999" y1="476.9" x2="577.5" y2="476.9" stroke="#000" stroke-width="1.6" />
<line x1="601.5" y1="463.4" x2="632.5" y2="463.4" stroke="#000" stroke-width="1.6" />
<line x1="617" y1="458" x2="617" y2="469.1" stroke="#000" stroke-width="1.6" />
<line x1="609.3" y1="458" x2="624.7" y2="458" stroke="#000" stroke-width="1.6" />
<line x1="609.3" y1="469.1" x2="624.7" y2="469.1" stroke="#000" stroke-width="1.6" />
<text x="400.3" y="542" font-size="13.5" font-weight="bold" text-anchor="end" fill="#000" >Tg</text>
<text x="400.3" y="561" font-size="13.5" font-weight="bold" text-anchor="end" fill="#000" >BFA</text>
<text x="400.3" y="580.5" font-size="13.5" font-weight="bold" text-anchor="end" fill="#000" >Eto</text>
<line x1="426.5" y1="538.3" x2="430.70000000000005" y2="538.3" stroke="#000" stroke-width="1.7" />
<line x1="470.40000000000003" y1="539.0999999999999" x2="477.2" y2="539.0999999999999" stroke="#000" stroke-width="1.4" />
<line x1="473.8" y1="535.6999999999999" x2="473.8" y2="542.4999999999999" stroke="#000" stroke-width="1.4" />
<line x1="519.1" y1="538.3" x2="523.3000000000001" y2="538.3" stroke="#000" stroke-width="1.7" />
<line x1="565.9" y1="539.0999999999999" x2="572.6999999999999" y2="539.0999999999999" stroke="#000" stroke-width="1.4" />
<line x1="569.3" y1="535.6999999999999" x2="569.3" y2="542.4999999999999" stroke="#000" stroke-width="1.4" />
<line x1="613.4" y1="538.3" x2="617.6" y2="538.3" stroke="#000" stroke-width="1.7" />
<line x1="426.5" y1="558.0" x2="430.70000000000005" y2="558.0" stroke="#000" stroke-width="1.7" />
<line x1="471.7" y1="558.0" x2="475.90000000000003" y2="558.0" stroke="#000" stroke-width="1.7" />
<line x1="517.8000000000001" y1="558.8" x2="524.6" y2="558.8" stroke="#000" stroke-width="1.4" />
<line x1="521.2" y1="555.4" x2="521.2" y2="562.1999999999999" stroke="#000" stroke-width="1.4" />
<line x1="565.9" y1="558.8" x2="572.6999999999999" y2="558.8" stroke="#000" stroke-width="1.4" />
<line x1="569.3" y1="555.4" x2="569.3" y2="562.1999999999999" stroke="#000" stroke-width="1.4" />
<line x1="613.4" y1="558.0" x2="617.6" y2="558.0" stroke="#000" stroke-width="1.7" />
<line x1="426.5" y1="578.4" x2="430.70000000000005" y2="578.4" stroke="#000" stroke-width="1.7" />
<line x1="471.7" y1="578.4" x2="475.90000000000003" y2="578.4" stroke="#000" stroke-width="1.7" />
<line x1="519.1" y1="578.4" x2="523.3000000000001" y2="578.4" stroke="#000" stroke-width="1.7" />
<line x1="567.1999999999999" y1="578.4" x2="571.4" y2="578.4" stroke="#000" stroke-width="1.7" />
<line x1="612.1" y1="579.1999999999999" x2="618.9" y2="579.1999999999999" stroke="#000" stroke-width="1.4" />
<line x1="615.5" y1="575.8" x2="615.5" y2="582.5999999999999" stroke="#000" stroke-width="1.4" />
<text transform="translate(14.6,625.6) scale(1,1.05)" font-size="31" font-weight="bold" text-anchor="start" fill="#000" >E</text>
<text transform="translate(28.2,838.2) rotate(-90) scale(1,1.02)" x="0" y="0" font-size="14.05" font-weight="bold" fill="#000">PrP<tspan font-size="9.69" dy="-5.90">C</tspan><tspan dy="5.90"> concentration (pg/ml)</tspan></text>
<line x1="62.7" y1="664.0" x2="62.7" y2="835.0" stroke="#000" stroke-width="1.9" />
<line x1="58.400000000000006" y1="834.1" x2="62.7" y2="834.1" stroke="#000" stroke-width="1.9" />
<text x="56.3" y="838.48" font-size="12.5" font-weight="bold" text-anchor="end" fill="#000" >0</text>
<line x1="58.400000000000006" y1="777.7" x2="62.7" y2="777.7" stroke="#000" stroke-width="1.9" />
<text x="56.3" y="782.08" font-size="12.5" font-weight="bold" text-anchor="end" fill="#000" >50</text>
<line x1="58.400000000000006" y1="721.3" x2="62.7" y2="721.3" stroke="#000" stroke-width="1.9" />
<text x="56.3" y="725.67" font-size="12.5" font-weight="bold" text-anchor="end" fill="#000" >100</text>
<line x1="58.400000000000006" y1="664.9" x2="62.7" y2="664.9" stroke="#000" stroke-width="1.9" />
<text x="56.3" y="669.27" font-size="12.5" font-weight="bold" text-anchor="end" fill="#000" >150</text>
<line x1="61.800000000000004" y1="834.1" x2="163.8" y2="834.1" stroke="#000" stroke-width="1.9" />
<line x1="91.9" y1="834.1" x2="91.9" y2="838.6" stroke="#000" stroke-width="1.9" />
<line x1="134.5" y1="834.1" x2="134.5" y2="838.6" stroke="#000" stroke-width="1.9" />
<circle cx="86.8" cy="726.2" r="3.4" fill="#a6a6a6"/>
<circle cx="101.9" cy="732" r="3.4" fill="#a6a6a6"/>
<circle cx="86.8" cy="742.3" r="3.4" fill="#a6a6a6"/>
<circle cx="92" cy="735" r="3.4" fill="#a6a6a6"/>
<circle cx="134.8" cy="805.4" r="3.4" fill="#5aa3f2"/>
<circle cx="125.2" cy="834.1" r="3.4" fill="#5aa3f2"/>
<circle cx="134.8" cy="834.1" r="3.4" fill="#5aa3f2"/>
<circle cx="144.4" cy="834.1" r="3.4" fill="#5aa3f2"/>
<line x1="77.60000000000001" y1="733.9" x2="106.2" y2="733.9" stroke="#000" stroke-width="1.6" />
<line x1="91.9" y1="730.3" x2="91.9" y2="737.5" stroke="#000" stroke-width="1.6" />
<line x1="84.4" y1="730.3" x2="99.4" y2="730.3" stroke="#000" stroke-width="1.6" />
<line x1="84.4" y1="737.5" x2="99.4" y2="737.5" stroke="#000" stroke-width="1.6" />
<line x1="120.50000000000001" y1="826.9" x2="149.10000000000002" y2="826.9" stroke="#000" stroke-width="1.6" />
<line x1="134.8" y1="820.2" x2="134.8" y2="833.6" stroke="#000" stroke-width="1.6" />
<line x1="127.30000000000001" y1="820.2" x2="142.3" y2="820.2" stroke="#000" stroke-width="1.6" />
<line x1="127.30000000000001" y1="833.6" x2="142.3" y2="833.6" stroke="#000" stroke-width="1.6" />
<text x="91.9" y="852.2" font-size="12.8" font-weight="bold" text-anchor="middle" fill="#000" >Vehicle</text>
<text x="134.8" y="852.2" font-size="12.8" font-weight="bold" text-anchor="middle" fill="#000" >DTT</text>
<text transform="translate(186.5,626) scale(1,1.05)" font-size="31" font-weight="bold" text-anchor="start" fill="#000" >F</text>
<text transform="translate(194.4,836.7) rotate(-90) scale(1,1.02)" x="0" y="0" font-size="13.97" font-weight="bold" fill="#000">PrP<tspan font-size="9.64" dy="-5.87">C</tspan><tspan dy="5.87"> concentration (pg/ml)</tspan></text>
<line x1="236" y1="659.2" x2="236" y2="836.9" stroke="#000" stroke-width="1.9" />
<line x1="231.7" y1="836.0" x2="236" y2="836.0" stroke="#000" stroke-width="1.9" />
<text x="229.0" y="840.34" font-size="12.4" font-weight="bold" text-anchor="end" fill="#000" >0</text>
<line x1="231.7" y1="792.025" x2="236" y2="792.025" stroke="#000" stroke-width="1.9" />
<text x="229.0" y="796.37" font-size="12.4" font-weight="bold" text-anchor="end" fill="#000" >1000</text>
<line x1="231.7" y1="748.05" x2="236" y2="748.05" stroke="#000" stroke-width="1.9" />
<text x="229.0" y="752.39" font-size="12.4" font-weight="bold" text-anchor="end" fill="#000" >2000</text>
<line x1="231.7" y1="704.075" x2="236" y2="704.075" stroke="#000" stroke-width="1.9" />
<text x="229.0" y="708.42" font-size="12.4" font-weight="bold" text-anchor="end" fill="#000" >3000</text>
<line x1="231.7" y1="660.1" x2="236" y2="660.1" stroke="#000" stroke-width="1.9" />
<text x="229.0" y="664.44" font-size="12.4" font-weight="bold" text-anchor="end" fill="#000" >4000</text>
<line x1="235.1" y1="836" x2="337" y2="836" stroke="#000" stroke-width="1.9" />
<line x1="264.5" y1="836" x2="264.5" y2="840.5" stroke="#000" stroke-width="1.9" />
<line x1="307.6" y1="836" x2="307.6" y2="840.5" stroke="#000" stroke-width="1.9" />
<circle cx="258.5" cy="797" r="3.4" fill="#a6a6a6"/>
<circle cx="263" cy="800.5" r="3.4" fill="#a6a6a6"/>
<circle cx="268" cy="797.5" r="3.4" fill="#a6a6a6"/>
<circle cx="271" cy="799.5" r="3.4" fill="#a6a6a6"/>
<circle cx="260" cy="801" r="3.4" fill="#a6a6a6"/>
<circle cx="265" cy="798" r="3.4" fill="#a6a6a6"/>
<circle cx="298.3" cy="680.5" r="3.4" fill="#5aa3f2"/>
<circle cx="317" cy="680.1" r="3.4" fill="#5aa3f2"/>
<circle cx="307.4" cy="690.8" r="3.4" fill="#5aa3f2"/>
<circle cx="298.3" cy="701.5" r="3.4" fill="#5aa3f2"/>
<circle cx="317" cy="706" r="3.4" fill="#5aa3f2"/>
<circle cx="307.4" cy="711.3" r="3.4" fill="#5aa3f2"/>
<line x1="250.2" y1="799" x2="278.8" y2="799" stroke="#000" stroke-width="1.6" />
<line x1="264.5" y1="798.3" x2="264.5" y2="799.7" stroke="#000" stroke-width="1.6" />
<line x1="258.0" y1="798.3" x2="271.0" y2="798.3" stroke="#000" stroke-width="1.6" />
<line x1="258.0" y1="799.7" x2="271.0" y2="799.7" stroke="#000" stroke-width="1.6" />
<line x1="293.09999999999997" y1="694.9" x2="321.7" y2="694.9" stroke="#000" stroke-width="1.6" />
<line x1="307.4" y1="689.6" x2="307.4" y2="700.3" stroke="#000" stroke-width="1.6" />
<line x1="300.9" y1="689.6" x2="313.9" y2="689.6" stroke="#000" stroke-width="1.6" />
<line x1="300.9" y1="700.3" x2="313.9" y2="700.3" stroke="#000" stroke-width="1.6" />
<text x="264.5" y="853.5" font-size="12.8" font-weight="bold" text-anchor="middle" fill="#000" >Control</text>
<text x="307.4" y="853.5" font-size="12.8" font-weight="bold" text-anchor="middle" fill="#000" >-Glc</text>
<text transform="translate(374.5,626.9) scale(1,1.05)" font-size="31" font-weight="bold" text-anchor="start" fill="#000" >G</text>
<text x="558.8" y="611.1" font-size="14.8" font-weight="normal" text-anchor="middle" fill="#111" >conditionned</text>
<text x="558.8" y="630.5" font-size="13.9" font-weight="normal" text-anchor="middle" fill="#111" >medium</text>
<line x1="509.3" y1="635.2" x2="606" y2="635.2" stroke="#111" stroke-width="2.8" />
<text transform="translate(457.5,685) rotate(-44)" font-size="14.5" fill="#111">Medium</text>
<text transform="translate(503,685.5) rotate(-44)" font-size="14.5" fill="#111">Vehicle</text>
<text transform="translate(546.5,684.5) rotate(-44)" font-size="14.5" fill="#111">Tg</text>
<text transform="translate(590.5,683) rotate(-44)" font-size="14.5" fill="#111">-Glc</text>
<line x1="427.7" y1="711.9" x2="427.7" y2="793.5" stroke="#111" stroke-width="1.3" />
<text x="373" y="775.2" font-size="14.6" fill="#111" letter-spacing="-1">PrP<tspan font-size="12" dy="-7" letter-spacing="0">C</tspan></text>
<text x="412.9" y="762" font-size="16" font-weight="bold" text-anchor="start" fill="#111" >#</text>
<text x="423.4" y="817.3" font-size="18" font-weight="normal" text-anchor="start" fill="#111" >*</text>
<line x1="615.7" y1="755.7" x2="620.5" y2="755.7" stroke="#111" stroke-width="1.3" />
<line x1="615.7" y1="788.3" x2="620.5" y2="788.3" stroke="#111" stroke-width="1.3" />
<text x="625.2" y="762" font-size="16.6" font-weight="normal" text-anchor="start" fill="#111" stroke="#111" stroke-width="0.45" letter-spacing="0.7">38</text>
<text x="625" y="792" font-size="16" font-weight="normal" text-anchor="start" fill="#111" >28</text>
</svg>
</body></html>
